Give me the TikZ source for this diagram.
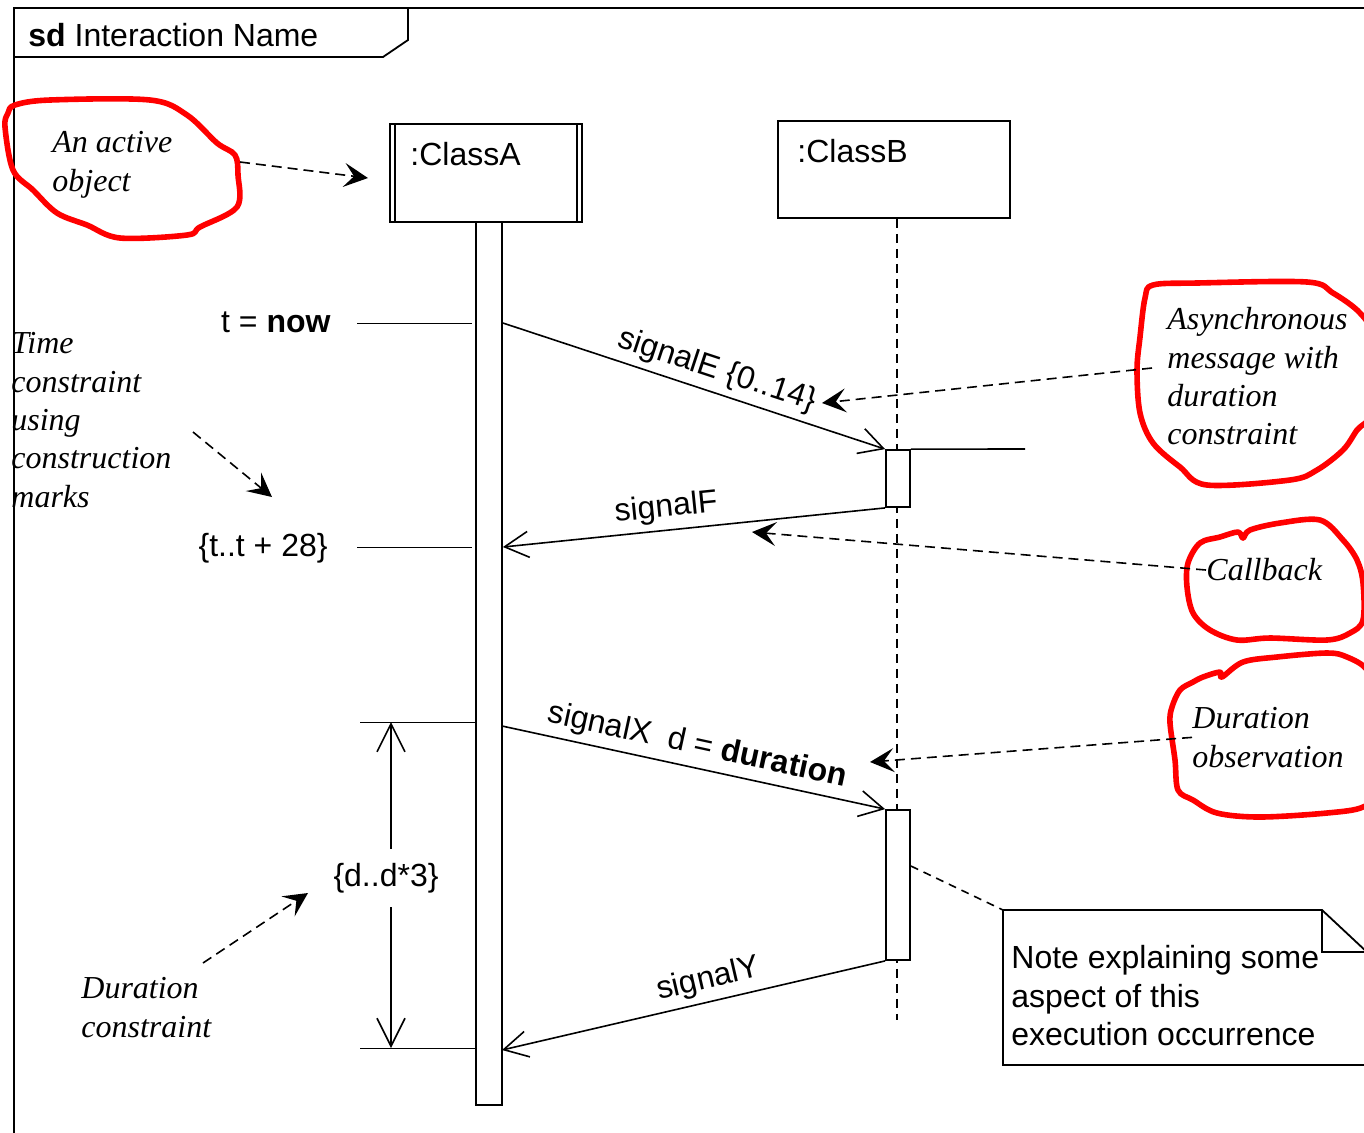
\documentclass[tikz,border=0pt]{standalone}
\usepackage{fontspec}
\setmainfont{Liberation Sans}
\newfontfamily\notefont{Liberation Serif}
\usetikzlibrary{arrows.meta}

\begin{document}
\begin{tikzpicture}[x=0.5pt,y=-0.5pt,
	objbox/.style={draw, line width=0.9pt},
	actbox/.style={draw, fill=white, line width=0.9pt},
	lifeline/.style={line width=0.8pt, dash pattern=on 4.5pt off 3pt},
	tickline/.style={line width=0.5pt},
	msg/.style={line width=0.8pt, -{Straight Barb[length=12pt,width=13pt]}},
	span/.style={line width=0.8pt, -{Straight Barb[length=14pt,width=14pt]}},
	hint/.style={line width=0.8pt, dash pattern=on 5pt off 3pt, -{Stealth[length=12pt,width=12pt,inset=5pt]}},
	notelink/.style={line width=0.8pt, dash pattern=on 4pt off 3pt},
	remark/.style={font=\notefont\itshape\fontsize{16}{19.2}\selectfont, align=left},
	blob/.style={red, line width=2.8pt, line join=round, line cap=round}]
	\tikzstyle{every node}+=[inner sep=0pt, font=\fontsize{16}{19.2}\selectfont]
	\useasboundingbox (0,0) rectangle (1364,1132);
	\fill [white] (0,0) rectangle (1364,1132);
	\clip (0,0) rectangle (1364,1132);
	\draw [line width=0.9pt] (14,1140) -- (14,8) -- (1370,8);
	\draw [line width=0.9pt] (14,57) -- (383,57) -- (408,40) -- (408,8);
	\node [anchor=west] (frameTitle) at (28,35) {\textbf{sd} Interaction Name};
	\node [objbox, minimum width=96pt, minimum height=49pt] (classA) at (486,173) {};
	\draw [line width=0.9pt] ([xshift=3pt]classA.north west) -- ([xshift=3pt]classA.south west);
	\draw [line width=0.9pt] ([xshift=-3pt]classA.north east) -- ([xshift=-3pt]classA.south east);
	\node [anchor=west] (nameA) at (410,154) {:ClassA};
	\node [objbox, minimum width=116pt, minimum height=48.5pt] (classB) at (894,169.5) {};
	\node [anchor=west] (nameB) at (797,151) {:ClassB};
	\coordinate (lifeEnd) at (897,1020);
	\draw [lifeline] (classB.south -| lifeEnd) -- (lifeEnd);
	\node [actbox, minimum width=13pt, minimum height=441.5pt] (actA) at (489,663.5) {};
	\node [actbox, minimum width=12pt, minimum height=28.5pt] (actB1) at (898,478.5) {};
	\node [actbox, minimum width=12pt, minimum height=75pt] (actB2) at (898,885) {};
	\coordinate (nowFrom) at (357,323);
	\coordinate (tNow) at (472,323);
	\coordinate (endFrom) at (357,547);
	\coordinate (tEnd) at (472,547);
	\node [anchor=east] (nowLabel) at (331,322) {t = \textbf{now}};
	\node [anchor=east] (endLabel) at (328,548) {\{t..t + 28\}};
	\draw [tickline] (nowFrom) -- (tNow);
	\draw [tickline] (endFrom) -- (tEnd);
	\draw [msg] (actA.east |- tNow) -- (actB1.north west) node [pos=0.542, sloped, above=3pt] (labelE) {signalE \{0..14\}};
	\coordinate (eMark) at (1025,449);
	\draw [line width=0.8pt] (actB1.north east) -- (eMark);
	\draw [msg] (actB1.south west) -- (actA.east |- tEnd) node [pos=0.567, sloped, above=3pt] (labelF) {signalF};
	\coordinate (dTopFrom) at (360,722);
	\coordinate (dTop) at (476,722);
	\coordinate (dBotFrom) at (360,1048);
	\coordinate (dBot) at (476,1048);
	\coordinate (xStart) at (502,726);
	\coordinate (yEnd) at (502,1050);
	\draw [tickline] (dTopFrom) -- (dTop);
	\draw [tickline] (dBotFrom) -- (dBot);
	\draw [msg] (xStart) -- (actB2.north west) node [pos=0.498, sloped, above=3pt] (labelX) {signalX\ \ d = \textbf{duration}};
	\draw [msg] (actB2.south west) -- (yEnd) node [pos=0.448, sloped, above=3pt] (labelY) {signalY};
	\node [inner ysep=7pt] (durLabel) at (386,878) {\{d..d*3\}};
	\coordinate (dArrow) at (391,877);
	\draw [span] (dArrow |- durLabel.north) -- (dArrow |- dTop);
	\draw [span] (dArrow |- durLabel.south) -- (dArrow |- dBot);
	\coordinate (noteNW) at (1003,910);
	\draw [line width=0.9pt, fill=white] (noteNW) -- (1322,910) -- (1368,953) -- (1368,1065) -- (1003,1065) -- cycle;
	\draw [line width=0.9pt] (1322,910) -- (1322,952) -- (1368,952);
	\node [anchor=north west, align=left] (noteText) at (1011,945) {Note explaining some\\aspect of this\\execution occurrence};
	\draw [notelink] ([yshift=9.5pt]actB2.east) -- (noteNW);
	\node [remark, anchor=north west] (activeNote) at (52,131) {An active\\object};
	\draw [blob] plot [smooth cycle, tension=0.55] coordinates {(8,113) (15,105) (50,100) (150,100) (187,115) (217,143) (235,155) (238,175) (237,207) (200,227) (187,235) (120,238) (87,225) (57,213) (33,190) (13,170) (5,127)};
	\coordinate (aoFrom) at (240,162);
	\coordinate (aoTo) at (368,178);
	\draw [hint] (aoFrom) -- (aoTo);
	\node [remark, anchor=north west] (timeNote) at (11,332) {Time\\constraint\\using\\construction\\marks};
	\coordinate (tcFrom) at (193,432);
	\coordinate (tcTo) at (272,497);
	\draw [hint] (tcFrom) -- (tcTo);
	\node [remark, anchor=north west] (asyncNote) at (1167,307) {Asynchronous\\message with\\duration\\constraint};
	\draw [blob] plot [smooth cycle, tension=0.55] coordinates {(1145,298) (1153,285) (1197,283) (1307,282) (1333,293) (1360,313) (1372,337) (1372,410) (1357,430) (1343,450) (1317,470) (1290,480) (1207,485) (1180,467) (1153,443) (1140,413) (1137,370) (1140,337)};
	\coordinate (asFrom) at (1152,368);
	\coordinate (asTo) at (822,403);
	\draw [hint] (asFrom) -- (asTo);
	\node [remark, anchor=west] (callbackNote) at (1206,570) {Callback};
	\draw [blob] plot [smooth cycle, tension=0.55] coordinates {(1200,543) (1220,537) (1238,532) (1243,538) (1250,530) (1280,523) (1320,520) (1343,540) (1357,560) (1363,583) (1363,620) (1350,633) (1327,640) (1270,638) (1237,640) (1210,630) (1193,613) (1187,587) (1188,563)};
	\coordinate (cbTo) at (752,532);
	\draw [hint] (callbackNote.west) -- (cbTo);
	\node [remark, anchor=north west] (obsNote) at (1192,707) {Duration\\observation};
	\draw [blob] plot [smooth cycle, tension=0.55] coordinates {(1180,690) (1193,682) (1203,677) (1220,672) (1222,677) (1243,662) (1277,657) (1327,653) (1347,657) (1367,670) (1376,700) (1376,790) (1363,807) (1327,813) (1260,817) (1217,813) (1193,800) (1178,790) (1175,760) (1170,723) (1172,707)};
	\coordinate (doTo) at (870,762);
	\draw [hint] (obsNote.west) -- (doTo);
	\node [remark, anchor=north west] (durNote) at (81,977) {Duration\\constraint};
	\coordinate (dcFrom) at (203,963);
	\coordinate (dcTo) at (308,893);
	\draw [hint] (dcFrom) -- (dcTo);
\end{tikzpicture}
\end{document}
